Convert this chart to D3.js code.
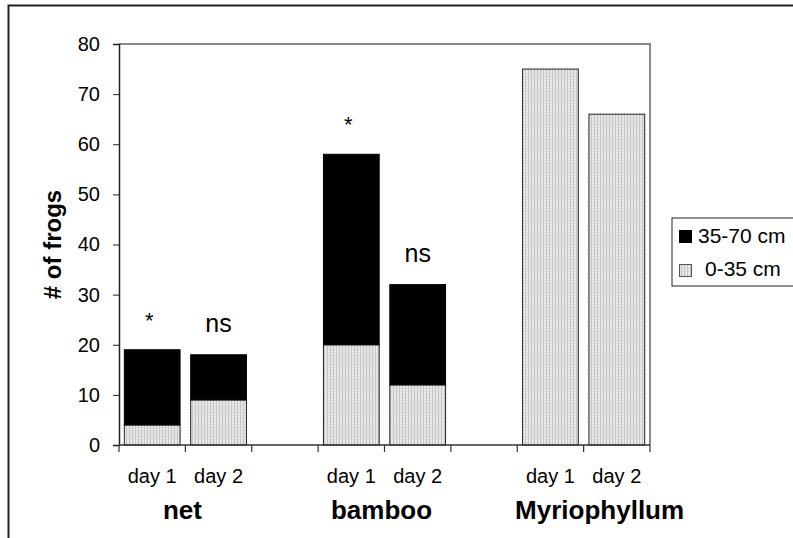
<!DOCTYPE html>
<html>
<head>
<meta charset="utf-8">
<script src="https://cdn.jsdelivr.net/npm/d3@7"></script>
<style>
  body { margin: 0; background: #fff; }
  text { font-family: "Liberation Sans", Arial, sans-serif; }
</style>
</head>
<body>
<svg width="793" height="538"></svg>
<script>
// data
var groups = ["net", "bamboo", "Myriophyllum"];
var days = ["day 1", "day 2"];
var lower = [4, 9, 20, 12, 75, 66];     // 0-35 cm
var upper = [15, 9, 38, 20, 0, 0];      // 35-70 cm
var marks = ["*", "ns", "*", "ns", "", ""];
var yTicks = [0, 10, 20, 30, 40, 50, 60, 70, 80];

var svgWidth = 793, svgHeight = 538;
var pLeft = 119, pTop = 44, pRight = 650, pBottom = 445;

var svg = d3.select("svg");

// slots: two days per group, an empty slot between groups
var slots = [];
groups.forEach(function (g, gi) {
    days.forEach(function (d) { slots.push(g + "|" + d); });
    if (gi < groups.length - 1) slots.push("gap" + gi);
});

var bars = [];
var k = 0;
groups.forEach(function (g) {
    days.forEach(function (d) {
        bars.push({ key: g + "|" + d, group: g, day: d, lo: lower[k], hi: upper[k], mark: marks[k] });
        k++;
    });
});

var x = d3.scaleBand().domain(slots).range([pLeft, pRight]).paddingInner(0.16).paddingOuter(0.08);
var y = d3.scaleLinear().domain([0, 80]).range([pBottom, pTop]);

// dotted fill pattern
var defs = svg.append("defs");
var pat = defs.append("pattern").attr("id", "dots")
    .attr("width", 3).attr("height", 3).attr("patternUnits", "userSpaceOnUse");
pat.append("rect").attr("width", 3).attr("height", 3).attr("fill", "#ececec");
pat.append("rect").attr("width", 1).attr("height", 3).attr("fill", "#bdbdbd");
pat.append("rect").attr("y", 1).attr("width", 3).attr("height", 1).attr("fill", "#d6d6d6");

// outer frame
svg.append("path").attr("d", "M8.5," + svgHeight + "V5.5H" + svgWidth)
    .attr("fill", "none").attr("stroke", "#222").attr("stroke-width", 2);

// plot frame (top + right gray)
svg.append("path").attr("d", "M" + pLeft + "," + pTop + "H" + pRight + "V" + pBottom)
    .attr("fill", "none").attr("stroke", "#8a8a8a").attr("stroke-width", 2);

// bars
var g = svg.append("g");
g.selectAll(".lo").data(bars).enter().append("rect")
    .attr("x", function (d) { return x(d.key); })
    .attr("width", x.bandwidth())
    .attr("y", function (d) { return y(d.lo); })
    .attr("height", function (d) { return y(0) - y(d.lo); })
    .attr("fill", "url(#dots)").attr("stroke", "#222").attr("stroke-width", 1);

g.selectAll(".hi").data(bars.filter(function (d) { return d.hi > 0; })).enter().append("rect")
    .attr("x", function (d) { return x(d.key); })
    .attr("width", x.bandwidth())
    .attr("y", function (d) { return y(d.lo + d.hi); })
    .attr("height", function (d) { return y(d.lo) - y(d.lo + d.hi); })
    .attr("fill", "#000").attr("stroke", "#000").attr("stroke-width", 1);

// significance marks
g.selectAll(".mark").data(bars.filter(function (d) { return d.mark; })).enter().append("text")
    .attr("x", function (d) { return x(d.key) + x.bandwidth() / 2 - (d.mark == "*" ? 3 : 0); })
    .attr("y", function (d) { return y(d.lo + d.hi) - (d.mark == "*" ? 22 : 23); })
    .attr("text-anchor", "middle")
    .attr("font-size", function (d) { return d.mark == "*" ? 22 : 25; })
    .text(function (d) { return d.mark; });

// y axis
var yAxis = svg.append("g").attr("transform", "translate(" + pLeft + ",0)")
    .call(d3.axisLeft(y).tickValues(yTicks).tickSize(6).tickPadding(13));
yAxis.select(".domain").attr("stroke", "#222").attr("stroke-width", 1.5);
yAxis.selectAll(".tick line").attr("stroke", "#222");
yAxis.selectAll(".tick text").attr("font-size", 20).attr("fill", "#000")
    .attr("font-family", "Liberation Sans, Arial, sans-serif");

// x axis line + ticks at slot boundaries
svg.append("line").attr("x1", pLeft).attr("x2", pRight).attr("y1", pBottom).attr("y2", pBottom)
    .attr("stroke", "#333").attr("stroke-width", 1.5);
var step = x.step();
var bounds = d3.range(slots.length + 1).map(function (i) { return pLeft + i * step; });
svg.selectAll(".xt").data(bounds).enter().append("line")
    .attr("x1", function (d) { return d; }).attr("x2", function (d) { return d; })
    .attr("y1", pBottom).attr("y2", pBottom + 7)
    .attr("stroke", "#333").attr("stroke-width", 1.2);

// day labels
svg.selectAll(".day").data(bars).enter().append("text")
    .attr("x", function (d) { return x(d.key) + x.bandwidth() / 2; })
    .attr("y", 483)
    .attr("text-anchor", "middle").attr("font-size", 20)
    .text(function (d) { return d.day; });

// group labels (last one sits a bit right in the original)
svg.selectAll(".grp").data(groups).enter().append("text")
    .attr("x", function (d, i) {
        var c = (x(d + "|day 1") + x(d + "|day 2") + x.bandwidth()) / 2;
        return c + (i == groups.length - 1 ? 16 : -3);
    })
    .attr("y", 519)
    .attr("text-anchor", "middle").attr("font-size", 26).attr("font-weight", "bold")
    .text(function (d) { return d; });

// y title
svg.append("text")
    .attr("transform", "translate(61," + (pTop + pBottom) / 2 + ") rotate(-90)")
    .attr("text-anchor", "middle").attr("font-size", 24).attr("font-weight", "bold")
    .text("# of frogs");

// legend
var leg = svg.append("g");
leg.append("rect").attr("x", 672).attr("y", 218).attr("width", 140).attr("height", 68)
    .attr("fill", "#fff").attr("stroke", "#222").attr("stroke-width", 1);
leg.append("rect").attr("x", 679).attr("y", 230).attr("width", 13).attr("height", 13)
    .attr("fill", "#000");
leg.append("text").attr("x", 698).attr("y", 243).attr("font-size", 21).text("35-70 cm");
leg.append("rect").attr("x", 679.5).attr("y", 264.5).attr("width", 12).attr("height", 12)
    .attr("fill", "url(#dots)").attr("stroke", "#555").attr("stroke-width", 1);
leg.append("text").attr("x", 705).attr("y", 276).attr("font-size", 21).text("0-35 cm");
</script>
</body>
</html>
